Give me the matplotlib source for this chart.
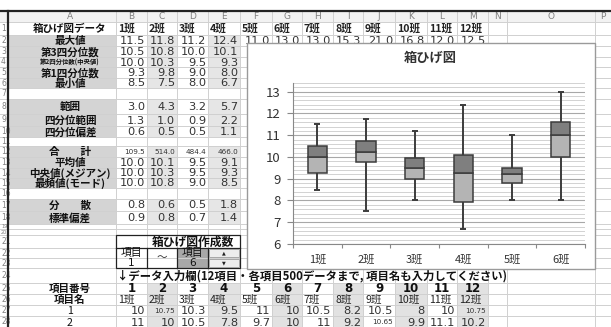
import matplotlib.pyplot as plt
from matplotlib.patches import Rectangle
from matplotlib.ticker import MultipleLocator, FixedLocator, NullFormatter
from decimal import Decimal, ROUND_HALF_UP

plt.rcParams['font.family'] = ['Noto Sans CJK JP', 'DejaVu Sans']
JP = ['Noto Sans CJK JP', 'DejaVu Sans']
NUM = ['DejaVu Sans', 'Noto Sans CJK JP']

################## データ ##################
classes = ['1班', '2班', '3班', '4班', '5班', '6班',
           '7班', '8班', '9班', '10班', '11班', '12班']
max_all = [11.5, 11.75, 11.2, 12.4, 11.0, 13.0, 13.0, 15.3, 21.0, 16.8, 12.0, 12.5]
q3_v = [10.5, 10.75, 9.95, 10.1, 9.5, 11.6]
med_v = [10.0, 10.25, 9.5, 9.25, 9.2, 11.0]
q1_v = [9.25, 9.75, 9.0, 7.95, 8.8, 10.0]
min_v = [8.5, 7.5, 8.0, 6.7, 8.0, 8.0]

range_v = [3.0, 4.3, 3.2, 5.7]
iqr_v = [1.3, 1.0, 0.9, 2.2]
qdev_v = [0.6, 0.5, 0.5, 1.1]
sum_v = [109.5, 514.0, 484.4, 466.0]
mean_v = [10.0, 10.1, 9.5, 9.1]
mode_v = [10.0, 10.8, 9.0, 8.5]
var_v = [0.8, 0.6, 0.5, 1.8]
sd_v = [0.9, 0.8, 0.7, 1.4]

data_1 = [10, 10.75, 10.3, 9.5, 11, 10, 10.5, 8.2, 10.5, 8, 10, 10.75]
data_2 = [11, 10, 10.5, 7.8, 9.7, 10, 11, 9.2, 10.65, 9.9, 11.1, 10.2]

n_box = 6
n_show = 4   # 表の1〜4班の列(5班以降はグラフの下)


def r1(v):
    # Excel風の四捨五入(小数1桁)
    return str(Decimal(str(v)).quantize(Decimal('0.1'), rounding=ROUND_HALF_UP))


################## シートのレイアウト ##################
W, H = 611, 327
col_edges = [8, 116, 147, 177, 208, 240, 272, 302, 333, 363, 395, 427, 457, 488, 507, 595, 611]
col_names = 'ABCDEFGHIJKLMNOP'
row_edges = [11, 22, 35, 46, 57, 67, 78, 88, 99, 114, 126, 137, 146, 157, 168, 178,
             188, 199, 211, 224, 229, 235, 248, 258, 268, 283, 294, 305, 316, 328]

fig = plt.figure(figsize=(W / 100, H / 100), dpi=100)
bg = fig.add_axes([0, 0, 1, 1])
bg.set_xlim(0, W)
bg.set_ylim(H, 0)
bg.axis('off')


def cx(c):
    return (col_edges[c] + col_edges[c + 1]) / 2


def cy(r):
    return (row_edges[r] + row_edges[r + 1]) / 2


def fill(c0, c1, r0, r1_, color):
    x0, x1 = col_edges[c0], col_edges[c1 + 1]
    y0, y1 = row_edges[r0], row_edges[r1_ + 1]
    bg.add_patch(Rectangle((x0, y0), x1 - x0, y1 - y0, facecolor=color,
                           edgecolor='none', zorder=1))


def num(c, r, s, size=8, color='#333333', weight='normal'):
    bg.text(col_edges[c + 1] - 2, cy(r) + 0.5, s, ha='right', va='center',
            fontsize=size, color=color, family=NUM, weight=weight, zorder=3)


def label(c, r, s, size=7.6, ha='center', weight='bold'):
    x = cx(c) + 8 if ha == 'center' else col_edges[c] + 2
    bg.text(x, cy(r) + 0.5, s, ha=ha, va='center', fontsize=size,
            color='#111111', family=JP, weight=weight, zorder=3)


# セルの塗り
label_rows = [2, 3, 4, 5, 6, 8, 9, 10, 12, 13, 14, 15, 17, 18]
for r in label_rows:
    fill(0, 0, r, r, '#d4d4d4')
    fill(2, 2, r, r, '#e6e6e6')
    fill(4, 4, r, r, '#e6e6e6')
for r in range(25, 29):
    for c in [2, 4, 6, 8, 10, 12]:
        fill(c, c, r, r, '#e2e2e2')
fill(3, 3, 22, 23, '#a8a8a8')

# 枠線(グリッド)
for x in col_edges:
    bg.plot([x, x], [row_edges[0], H], color='#d0d0d0', lw=0.7, zorder=2)
for y in row_edges:
    bg.plot([0, W], [y, y], color='#d0d0d0', lw=0.7, zorder=2)

# 列見出し・行番号
bg.add_patch(Rectangle((0, row_edges[0]), W, row_edges[1] - row_edges[0],
                       facecolor='#f2f2f2', edgecolor='none', zorder=1.5))
for c, name in enumerate(col_names):
    x = cx(c) + (8 if c == 0 else 0)
    bg.text(x, cy(0), name, ha='center', va='center', fontsize=6.5,
            color='#808080', family=NUM, zorder=3)
for r in range(1, 29):
    small = row_edges[r + 1] - row_edges[r] < 8
    bg.text(1, cy(r), str(r), ha='left', va='center', fontsize=3.6 if small else 5.5,
            color='#808080', family=NUM, zorder=3)
bg.plot([0, W], [row_edges[0], row_edges[0]], color='#222222', lw=1.6, zorder=4)
bg.plot([8, 8], [row_edges[0], H], color='#222222', lw=1.6, zorder=4)

# 統計表
label(0, 1, '箱ひげ図データ')
for c in range(12):
    bg.text(col_edges[c + 1] + 2, cy(1) + 0.5, classes[c], ha='left', va='center',
            fontsize=7.6, color='#222222', family=JP, weight='bold', zorder=3)

stat_rows = [
    (2, '最大値', [r1(v) for v in max_all]),
    (3, '第3四分位数', [r1(v) for v in q3_v[:n_show]]),
    (4, '第2四分位数(中央値)', [r1(v) for v in med_v[:n_show]]),
    (5, '第1四分位数', [r1(v) for v in q1_v[:n_show]]),
    (6, '最小値', [r1(v) for v in min_v[:n_show]]),
    (8, '範囲', [r1(v) for v in range_v]),
    (9, '四分位範囲', [r1(v) for v in iqr_v]),
    (10, '四分位偏差', [r1(v) for v in qdev_v]),
    (12, '合　　計', [r1(v) for v in sum_v]),
    (13, '平均値', [r1(v) for v in mean_v]),
    (14, '中央値(メジアン)', [r1(v) for v in med_v[:n_show]]),
    (15, '最頻値(モード)', [r1(v) for v in mode_v]),
    (17, '分　　散', [r1(v) for v in var_v]),
    (18, '標準偏差', [r1(v) for v in sd_v]),
]
for r, name, vals in stat_rows:
    label(0, r, name, size=4.6 if r == 4 else 7.6)
    for c, s in enumerate(vals):
        num(c + 1, r, s, size=5.2 if r == 12 else 8.2)

# 作成数の指定欄
box_x0, box_x1 = col_edges[1], col_edges[5]
bg.add_patch(Rectangle((box_x0, row_edges[21]), box_x1 - box_x0,
                       row_edges[24] - row_edges[21], facecolor='none',
                       edgecolor='#222222', lw=0.9, zorder=4))
bg.plot([box_x0, box_x1], [row_edges[22]] * 2, color='#222222', lw=0.9, zorder=4)
for c in [2, 3, 4]:
    bg.plot([col_edges[c]] * 2, [row_edges[22], row_edges[24]], color='#222222',
            lw=0.9, zorder=4)
bg.text((box_x0 + box_x1) / 2 + 15, cy(21) + 0.5, '箱ひげ図作成数', ha='center',
        va='center', fontsize=8.5, weight='bold', color='#111111', family=JP, zorder=5)
for c, top, bottom in [(1, '項目', '1'), (3, '項目', '6')]:
    bg.text(cx(c), cy(22), top, ha='center', va='center', fontsize=7.8,
            color='#111111', family=JP, zorder=5)
    bg.text(cx(c), cy(23), bottom, ha='center', va='center', fontsize=7.6,
            color='#111111', family=NUM, zorder=5)
bg.text(cx(2), row_edges[23], '〜', ha='center', va='center', fontsize=7.6,
        color='#333333', family=JP, zorder=5)
for r, mark in [(22, '▲'), (23, '▼')]:
    bg.add_patch(Rectangle((col_edges[4] + 1, row_edges[r] + 1),
                           col_edges[5] - col_edges[4] - 2,
                           row_edges[r + 1] - row_edges[r] - 2,
                           facecolor='#ededed', edgecolor='#999999', lw=0.6, zorder=4))
    bg.text(cx(4), cy(r), mark, ha='center', va='center', fontsize=3.5,
            color='#222222', family=['DejaVu Sans'], zorder=5)

# データ入力欄
bg.text(col_edges[1] + 1, cy(24) + 0.5,
        '↓データ入力欄(12項目・各項目500データまで, 項目名も入力してください)',
        ha='left', va='center', fontsize=8.2, weight='bold', color='#111111',
        family=JP, zorder=3)
label(0, 25, '項目番号')
label(0, 26, '項目名')
label(0, 27, '1', weight='normal')
label(0, 28, '2', weight='normal')
for c in range(12):
    bg.text(cx(c + 1), cy(25) + 0.5, str(c + 1), ha='center', va='center',
            fontsize=8.5, weight='bold', color='#111111', family=NUM, zorder=3)
    bg.text(col_edges[c + 1] + 2, cy(26) + 0.5, classes[c], ha='left', va='center',
            fontsize=7.6, color='#222222', family=JP, zorder=3)
    for r, row in [(27, data_1), (28, data_2)]:
        s = f'{row[c]:g}'
        num(c + 1, r, s, size=5.2 if len(s) > 4 else 8.2)

################## 箱ひげ図 ##################
# グラフエリア(白い枠)
bg.add_patch(Rectangle((247, 43), 348, 226, facecolor='white',
                       edgecolor='#9a9a9a', lw=1.0, zorder=10))
bg.text(430, 58, '箱ひげ図', ha='center', va='center', fontsize=9.5,
        weight='bold', color='#333333', family=JP, zorder=11)

ax = fig.add_axes([293 / W, (H - 244) / H, 292 / W, (244 - 83) / H])
ax.set_facecolor('none')
ax.set_xlim(0, n_box)
ax.set_ylim(6, 13.4)

ax.yaxis.set_major_locator(MultipleLocator(1))
ax.yaxis.set_minor_locator(MultipleLocator(0.2))
ax.grid(axis='y', which='minor', color='#d2d2d2', lw=0.7)
ax.grid(axis='y', which='major', color='#a8a8a8', lw=0.8)
ax.set_axisbelow(True)

pos = [i + 0.5 for i in range(n_box)]
bw = 0.4
edge = '#3c3c3c'
ax.bar(pos, [m - q for m, q in zip(med_v, q1_v)], bottom=q1_v, width=bw,
       color='#b4b4b4', edgecolor=edge, lw=1.1, zorder=3)
ax.bar(pos, [q - m for q, m in zip(q3_v, med_v)], bottom=med_v, width=bw,
       color='#7f7f7f', edgecolor=edge, lw=1.1, zorder=3)
ax.vlines(pos, q3_v, max_all[:n_box], color=edge, lw=1.4, zorder=2)
ax.vlines(pos, min_v, q1_v, color=edge, lw=1.4, zorder=2)
ax.hlines(max_all[:n_box], [p - 0.06 for p in pos], [p + 0.06 for p in pos],
          color=edge, lw=1.4, zorder=2)
ax.hlines(min_v, [p - 0.06 for p in pos], [p + 0.06 for p in pos],
          color=edge, lw=1.4, zorder=2)

ax.xaxis.set_major_locator(FixedLocator(range(n_box + 1)))
ax.xaxis.set_major_formatter(NullFormatter())
ax.xaxis.set_minor_locator(FixedLocator(pos))
ax.set_xticklabels(classes[:n_box], minor=True, family=JP, fontsize=8, color='#333333')
ax.tick_params(axis='x', which='major', length=3, color='#888888')
ax.tick_params(axis='x', which='minor', length=0, pad=8)
ax.tick_params(axis='y', which='major', length=4, color='#888888', labelsize=9.5,
               labelcolor='#333333', pad=5)
ax.tick_params(axis='y', which='minor', length=0)
for s in ['top', 'right']:
    ax.spines[s].set_visible(False)
ax.spines['left'].set_color('#888888')
ax.spines['bottom'].set_color('#888888')

fig.savefig('out.png', dpi=100)
